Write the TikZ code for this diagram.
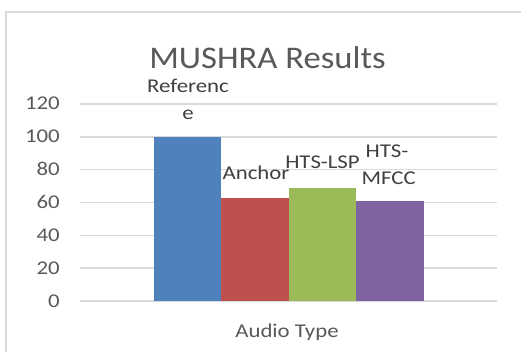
\documentclass[tikz,border=0pt]{standalone}
\usepackage{fontspec}
\setmainfont{Carlito}
\newfontfamily\labelfont[FakeStretch=1.17]{Carlito}
\newfontfamily\headfont[FakeStretch=1.10]{Carlito}
\definecolor{axistext}{HTML}{595959}
\definecolor{datatext}{HTML}{404040}
\definecolor{gridgray}{HTML}{D9D9D9}
\definecolor{barblue}{HTML}{4F81BD}
\definecolor{barred}{HTML}{C0504D}
\definecolor{bargreen}{HTML}{9BBB59}
\definecolor{barpurple}{HTML}{8064A2}
\begin{document}
\begin{tikzpicture}[x=1pt,y=-1pt,
  gridline/.style={draw=gridgray,line width=1.4pt},
  frameline/.style={draw=gridgray,line width=1.6pt},
  ticklabel/.style={anchor=base east,inner sep=0pt,text=axistext,font=\labelfont\fontsize{19.5}{23}\selectfont},
  datalabel/.style={anchor=base,inner sep=0pt,text=datatext,font=\labelfont\fontsize{19.5}{23}\selectfont},
  axistitle/.style={anchor=base,inner sep=0pt,text=axistext,font=\labelfont\fontsize{19.5}{23}\selectfont},
  charttitle/.style={anchor=base,inner sep=0pt,text=axistext,font=\headfont\fontsize{31.5}{36}\selectfont}]
\useasboundingbox (0,0) rectangle (521,352);
\begin{scope}
\clip (0,0) rectangle (521,352);
% chart frame (runs past the page on the right and bottom)
\draw[frameline] (6,12) rectangle (560,400);
\end{scope}

% value axis: y(v) = 301 - 1.6417 v
\foreach \v in {0,20,...,120}{
  \pgfmathsetmacro{\yy}{301-1.6417*\v}
  \draw[gridline] (80,\yy) -- (497,\yy);
  \node[ticklabel] (tick\v) at (60,\yy+6) {\v};
}

% bars
\fill[barblue]   (154,301) rectangle (221,{301-1.6417*100});
\fill[barred]    (221,301) rectangle (289,{301-1.6417*62.56});
\fill[bargreen]  (289,301) rectangle (356,{301-1.6417*68.8});
\fill[barpurple] (356,301) rectangle (424,{301-1.6417*60.9});

% data labels
\node[datalabel] (lref1) at (188,92.7) {Referenc};
\node[datalabel] (lref2) at (188,120) {e};
\node[datalabel] (lanc) at (256,180) {Anchor};
\node[datalabel] (llsp) at (322.5,168.3) {HTS-LSP};
\node[datalabel] (lmf1) at (387,157.5) {HTS-};
\node[datalabel] (lmf2) at (388.7,185) {MFCC};

% titles
\node[charttitle] (title) at (267.5,68.3) {MUSHRA Results};
\node[axistitle] (xtitle) at (287,337.3) {Audio Type};
\end{tikzpicture}
\end{document}
